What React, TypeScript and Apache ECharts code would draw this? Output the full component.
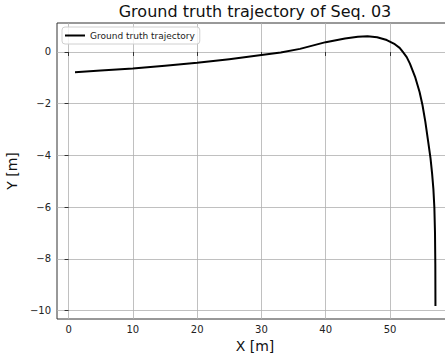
import React, { useEffect, useRef } from "react";
import * as echarts from "echarts";

const TITLE = "Ground truth trajectory of Seq. 03";
const SERIES_NAME = "Ground truth trajectory";
const X_LABEL = "X [m]";
const Y_LABEL = "Y [m]";
const X_TICKS = [0, 10, 20, 30, 40, 50];
const Y_TICKS = [-10, -8, -6, -4, -2, 0];
const X_RANGE = [-1.8, 59.8];
const Y_RANGE = [-10.32, 1.12];

const trajX = [1, 5, 10, 15, 20, 25, 30, 33, 36, 40, 43, 45, 46.5, 48, 49.5, 50.75, 51.5, 52.0, 52.6, 53.1, 53.9, 54.6, 55.05, 55.5, 55.9, 56.3, 56.55, 56.75, 56.9, 57.0, 57.05, 57.07];
const trajY = [-0.78, -0.72, -0.64, -0.53, -0.42, -0.28, -0.12, -0.02, 0.12, 0.38, 0.52, 0.59, 0.61, 0.57, 0.46, 0.3, 0.16, 0.0, -0.2, -0.45, -0.96, -1.55, -2.05, -2.7, -3.4, -4.1, -4.7, -5.3, -6.0, -7.0, -8.2, -9.82];

const FONT = "DejaVu Sans";
const fmt = (v: number) => (v < 0 ? "\u2212" + Math.abs(v) : String(v));

export default function App() {
  const ref = useRef<HTMLDivElement>(null);
  useEffect(() => {
    if (!ref.current) return;
    const chart = echarts.init(ref.current, undefined, { renderer: "svg" });
    const data = trajX.map((x, i) => [x, trajY[i]]);
    chart.setOption({
      animation: false,
      backgroundColor: "#fff",
      textStyle: { fontFamily: FONT },
      graphic: [
        {
          type: "text",
          x: 255,
          y: 3,
          style: {
            text: TITLE,
            font: `16px "${FONT}"`,
            fill: "#111",
            textAlign: "center",
            textVerticalAlign: "top",
          },
        },
      ],
      legend: {
        left: 62,
        top: 27,
        padding: [4, 5, 4, 3],
        itemWidth: 20,
        itemHeight: 2,
        icon: "rect",
        borderColor: "#d0d0d0",
        borderWidth: 1,
        borderRadius: 3,
        backgroundColor: "rgba(255,255,255,0.8)",
        textStyle: { fontFamily: FONT, fontSize: 9, color: "#222" },
        data: [{ name: SERIES_NAME, itemStyle: { color: "#000" } }],
      },
      grid: {
        left: 57,
        top: 23,
        right: -8,
        bottom: 41,
        outerBoundsMode: "none",
        containLabel: false,
        show: true,
        borderColor: "#333",
        borderWidth: 1,
        backgroundColor: "transparent",
      },
      xAxis: {
        type: "value",
        min: X_RANGE[0],
        max: X_RANGE[1],
        name: X_LABEL,
        nameLocation: "middle",
        nameGap: 19,
        nameTextStyle: { fontFamily: FONT, fontSize: 14, color: "#111" },
        axisLine: { show: false },
        axisTick: { show: true, customValues: X_TICKS, length: 4, lineStyle: { color: "#333" } },
        axisLabel: { customValues: X_TICKS, formatter: fmt, fontFamily: FONT, fontSize: 10, color: "#222", margin: 5 },
        splitLine: { show: true, lineStyle: { color: "#b0b0b0", width: 0.8 } },
      },
      yAxis: {
        type: "value",
        min: Y_RANGE[0],
        max: Y_RANGE[1],
        name: Y_LABEL,
        nameLocation: "middle",
        nameGap: 29,
        nameRotate: 90,
        nameTextStyle: { fontFamily: FONT, fontSize: 14, color: "#111" },
        axisLine: { show: false },
        axisTick: { show: true, customValues: Y_TICKS, length: 4, lineStyle: { color: "#333" } },
        axisLabel: { customValues: Y_TICKS, formatter: fmt, fontFamily: FONT, fontSize: 10, color: "#222", margin: 6 },
        splitLine: { show: true, lineStyle: { color: "#b0b0b0", width: 0.8 } },
      },
      series: [
        {
          name: SERIES_NAME,
          type: "line",
          data,
          showSymbol: false,
          smooth: false,
          lineStyle: { color: "#000", width: 2, join: "round" },
          itemStyle: { color: "#000" },
        },
      ],
    });
    return () => chart.dispose();
  }, []);
  return <div ref={ref} style={{ position: "fixed", left: 0, top: 0, width: 445, height: 360 }} />;
}
